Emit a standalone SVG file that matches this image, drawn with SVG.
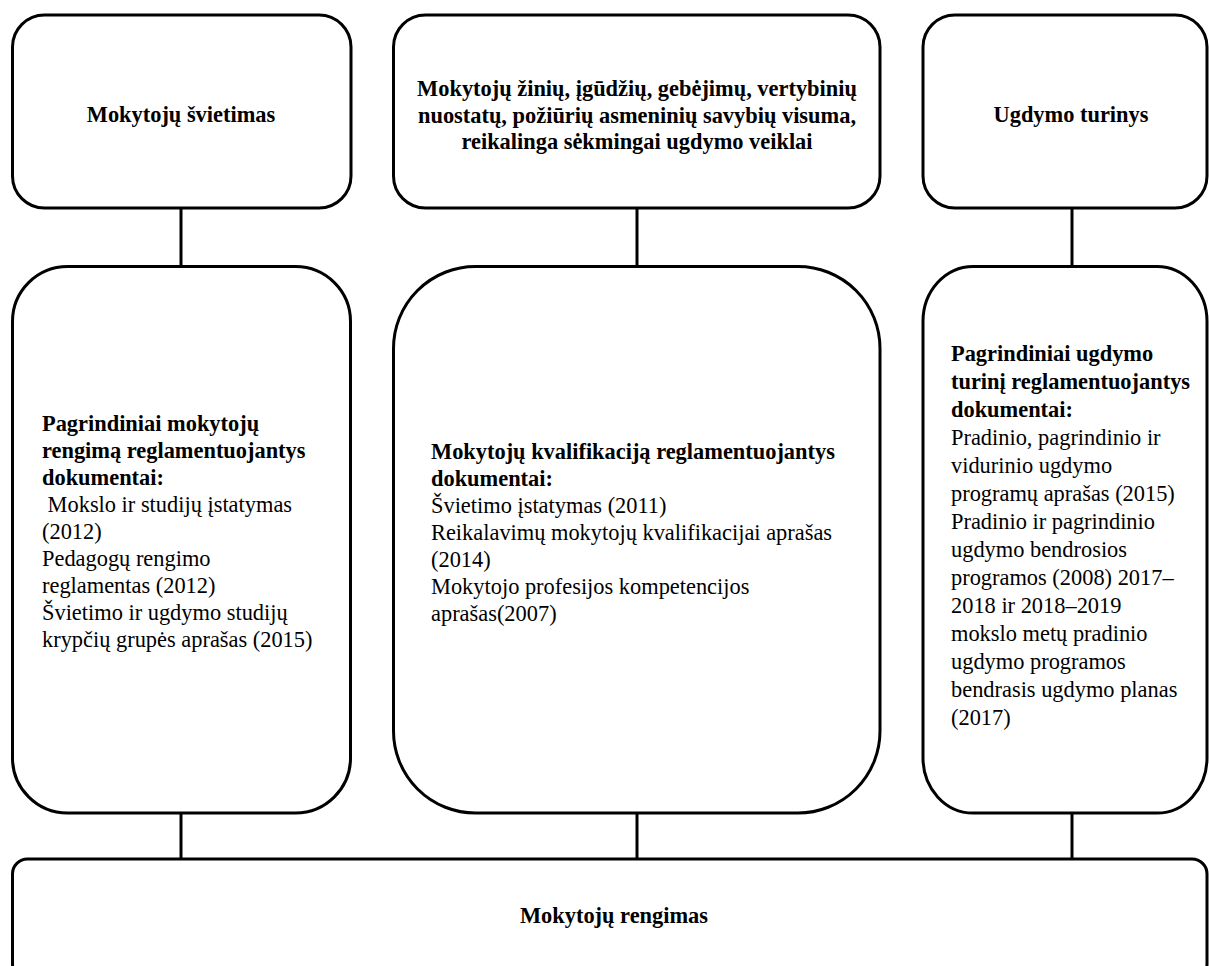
<svg xmlns="http://www.w3.org/2000/svg" width="1209" height="966" viewBox="0 0 1209 966">
<style>
.box{fill:#fff;stroke:#000;stroke-width:3}
.con line{stroke:#000;stroke-width:3}
text{font-family:"Liberation Serif","Times New Roman",serif;font-size:22.4px;fill:#000}
.b{font-weight:bold}
.c{text-anchor:middle}
</style>
<rect width="1209" height="966" fill="#fff"/>
<g id="connectors" class="con">
<line x1="181" y1="208" x2="181" y2="267"/>
<line x1="637" y1="208" x2="637" y2="267"/>
<line x1="1072" y1="208" x2="1072" y2="267"/>
<line x1="181" y1="813" x2="181" y2="859"/>
<line x1="637" y1="813" x2="637" y2="859"/>
<line x1="1072" y1="813" x2="1072" y2="859"/>
</g>
<g id="n1">
<rect class="box" x="12.5" y="15" width="338.5" height="193" rx="32"/>
<text class="b c" x="181" y="122">Mokytojų švietimas</text>
</g>
<g id="n2">
<rect class="box" x="393.5" y="15" width="486.5" height="193" rx="32"/>
<text class="b c" x="637" y="96">Mokytojų žinių, įgūdžių, gebėjimų, vertybinių</text>
<text class="b c" x="637" y="122.5">nuostatų, požiūrių asmeninių savybių visuma,</text>
<text class="b c" x="637" y="149">reikalinga sėkmingai ugdymo veiklai</text>
</g>
<g id="n3">
<rect class="box" x="923" y="15" width="284" height="193" rx="32"/>
<text class="b c" x="1071" y="122">Ugdymo turinys</text>
</g>
<g id="n4">
<rect class="box" x="12.5" y="266.5" width="338" height="546.5" rx="55"/>
<text class="b" x="42" y="431">Pagrindiniai mokytojų</text>
<text class="b" x="42" y="458">rengimą reglamentuojantys</text>
<text class="b" x="42" y="485">dokumentai:</text>
<text x="42" y="512" xml:space="preserve"> Mokslo ir studijų įstatymas</text>
<text x="42" y="539">(2012)</text>
<text x="42" y="566">Pedagogų rengimo</text>
<text x="42" y="593">reglamentas (2012)</text>
<text x="42" y="620">Švietimo ir ugdymo studijų</text>
<text x="42" y="647">krypčių grupės aprašas (2015)</text>
</g>
<g id="n5">
<rect class="box" x="393.5" y="266.5" width="486.5" height="546.5" rx="82"/>
<text class="b" x="431" y="459">Mokytojų kvalifikaciją reglamentuojantys</text>
<text class="b" x="431" y="486">dokumentai:</text>
<text x="431" y="513">Švietimo įstatymas (2011)</text>
<text x="431" y="540">Reikalavimų mokytojų kvalifikacijai aprašas</text>
<text x="431" y="567">(2014)</text>
<text x="431" y="594">Mokytojo profesijos kompetencijos</text>
<text x="431" y="621">aprašas(2007)</text>
</g>
<g id="n6">
<rect class="box" x="923" y="266.5" width="284" height="546.5" rx="50" ry="55"/>
<text class="b" x="951" y="361">Pagrindiniai ugdymo</text>
<text class="b" x="951" y="389">turinį reglamentuojantys</text>
<text class="b" x="951" y="417">dokumentai:</text>
<text x="951" y="445">Pradinio, pagrindinio ir</text>
<text x="951" y="473">vidurinio ugdymo</text>
<text x="951" y="501">programų aprašas (2015)</text>
<text x="951" y="529">Pradinio ir pagrindinio</text>
<text x="951" y="557">ugdymo bendrosios</text>
<text x="951" y="585">programos (2008) 2017–</text>
<text x="951" y="613">2018 ir 2018–2019</text>
<text x="951" y="641">mokslo metų pradinio</text>
<text x="951" y="669">ugdymo programos</text>
<text x="951" y="697">bendrasis ugdymo planas</text>
<text x="951" y="725">(2017)</text>
</g>
<g id="n7">
<rect class="box" x="12.5" y="859" width="1194.5" height="120" rx="15"/>
<text class="b c" x="614" y="923">Mokytojų rengimas</text>
</g>
</svg>
